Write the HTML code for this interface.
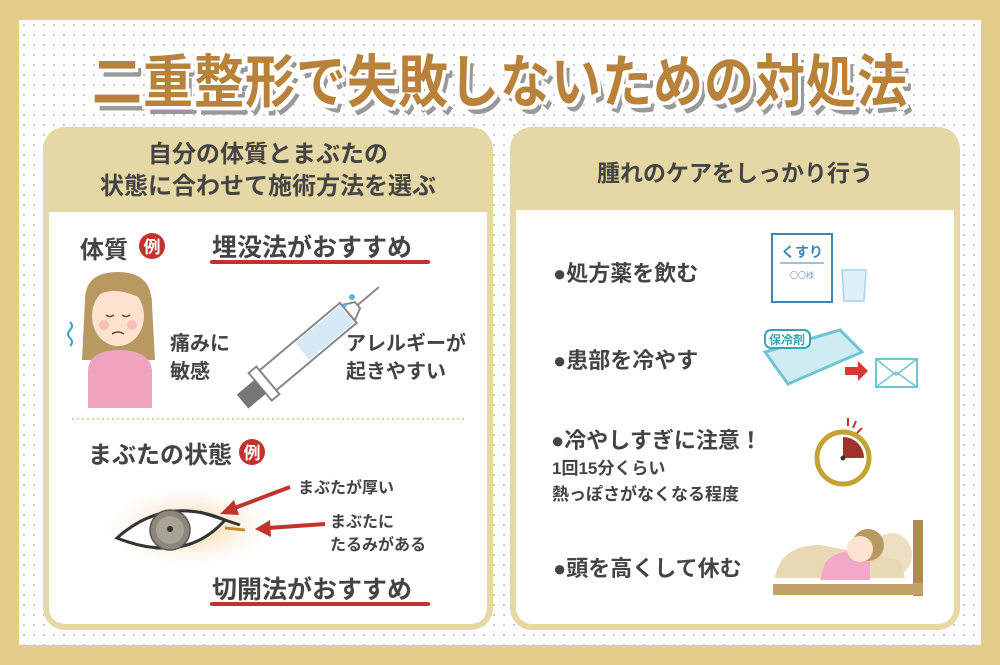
<!DOCTYPE html>
<html><head><meta charset="utf-8"><style>
*{margin:0;padding:0;box-sizing:border-box}
body{width:1000px;height:665px;overflow:hidden;background:#e2cd8a;font-family:"Liberation Sans","Noto Sans CJK JP",sans-serif;}
#in{position:absolute;left:19px;top:20px;width:962px;height:625px;background-color:#fdfdfd;background-image:radial-gradient(circle,#c9c9d3 1px,transparent 1.3px);background-size:10px 10px;}
.t{position:absolute;white-space:nowrap;font-weight:bold;color:#444;}
#title{left:0;width:1000px;top:42px;text-align:center;font-size:50px;color:#b8823a;letter-spacing:1px;transform:scaleY(1.15);
text-shadow:3px 3px 0 #fff,-3px -3px 0 #fff,3px -3px 0 #fff,-3px 3px 0 #fff,0 3px 0 #fff,0 -3px 0 #fff,3px 0 0 #fff,-3px 0 0 #fff,6px 6px 0 #999,5px 7px 0 #999;}
.panel{position:absolute;background:#e6d8a5;border-radius:22px;}
.inner{position:absolute;background:#fff;border-radius:0 0 16px 16px;}
</style></head><body>
<div id="in"></div>
<div class="t" id="title">二重整形で失敗しないための対処法</div>

<div class="panel" style="left:43px;top:127px;width:450px;height:503px"></div>
<div class="inner" style="left:49px;top:212px;width:438px;height:412px"></div>
<div class="panel" style="left:510px;top:127px;width:450px;height:503px"></div>
<div class="inner" style="left:516px;top:210px;width:438px;height:414px"></div>

<div class="t" style="left:43px;width:450px;text-align:center;top:139px;font-size:24px;line-height:32px">自分の体質とまぶたの<br>状態に合わせて施術方法を選ぶ</div>
<div class="t" style="left:510px;width:450px;text-align:center;top:154px;font-size:23px">腫れのケアをしっかり行う</div>

<div class="t" style="left:80px;top:230px;font-size:24px">体質</div>
<div class="t" style="left:212px;top:228px;font-size:25px">埋没法がおすすめ</div>
<div class="t" style="left:170px;top:330px;font-size:20px;line-height:28px">痛みに<br>敏感</div>
<div class="t" style="left:346px;top:330px;font-size:20px;line-height:28px">アレルギーが<br>起きやすい</div>
<div class="t" style="left:88px;top:435px;font-size:24px">まぶたの状態</div>
<div class="t" style="left:298px;top:474px;font-size:16px">まぶたが厚い</div>
<div class="t" style="left:330px;top:511px;font-size:16px;line-height:23px">まぶたに<br>たるみがある</div>
<div class="t" style="left:212px;top:570px;font-size:25px">切開法がおすすめ</div>

<div class="t" style="left:553px;top:256px;font-size:22px">●処方薬を飲む</div>
<div class="t" style="left:553px;top:343px;font-size:22px">●患部を冷やす</div>
<div class="t" style="left:551px;top:423px;font-size:22px">●冷やしすぎに注意！</div>
<div class="t" style="left:552px;top:456px;font-size:17px;line-height:26px">1回15分くらい<br>熱っぽさがなくなる程度</div>
<div class="t" style="left:553px;top:551px;font-size:22px">●頭を高くして休む</div>

<svg width="1000" height="665" style="position:absolute;left:0;top:0">
<defs><radialGradient id="sh"><stop offset="0" stop-color="#f1c98c"/><stop offset="1" stop-color="#fff" stop-opacity="0"/></radialGradient></defs>
<circle cx="152" cy="246" r="13" fill="#c0332e"/><text x="152" y="253" font-size="17" font-weight="bold" fill="#fff" text-anchor="middle" font-family="Noto Sans CJK JP">例</text>
<circle cx="252" cy="452" r="13" fill="#c0332e"/><text x="252" y="459" font-size="17" font-weight="bold" fill="#fff" text-anchor="middle" font-family="Noto Sans CJK JP">例</text>
<line x1="212" y1="262" x2="428" y2="262" stroke="#c0332e" stroke-width="4" stroke-linecap="round"/>
<line x1="212" y1="604" x2="428" y2="604" stroke="#c0332e" stroke-width="4" stroke-linecap="round"/>
<line x1="72" y1="419" x2="465" y2="419" stroke="#e3d3a0" stroke-width="2" stroke-dasharray="2 3"/>
<path d="M85 300 Q85 272 118 272 Q152 272 152 305 L155 360 L82 360 Z" fill="#b89962"/>
<ellipse cx="118" cy="316" rx="26" ry="30" fill="#fde3cf"/>
<path d="M92 300 Q110 282 145 300 L145 290 Q118 270 90 292Z" fill="#b89962"/>
<circle cx="104" cy="325" r="5" fill="#f6c0b8"/><circle cx="132" cy="325" r="5" fill="#f6c0b8"/>
<path d="M106 315 q4 3 8 0 M122 315 q4 3 8 0 M112 334 q6 -4 12 0" stroke="#6a4a3a" stroke-width="1.5" fill="none"/>
<path d="M88 408 L88 370 Q90 350 118 350 Q150 350 152 370 L152 408Z" fill="#f0a2c0"/>
<path d="M70 322 q4 4 0 8 q-4 4 0 8 q4 4 0 8" stroke="#39a7c8" stroke-width="2" fill="none"/>
<g transform="translate(310 345) rotate(-40)">
<rect x="-55" y="-13" width="105" height="26" fill="#fff" stroke="#888" stroke-width="2"/>
<rect x="-10" y="-11" width="58" height="22" fill="#d5e9f6"/>
<rect x="-65" y="-18" width="10" height="36" fill="#fff" stroke="#888" stroke-width="2"/>
<rect x="-88" y="-9" width="23" height="18" fill="#777"/>
<path d="M50 -10 L62 -4 L62 4 L50 10Z" fill="#fff" stroke="#888" stroke-width="2"/>
<line x1="62" y1="0" x2="90" y2="0" stroke="#888" stroke-width="2"/>
</g>
<circle cx="352" cy="297" r="3" fill="#5ab8dc"/><circle cx="345" cy="305" r="2" fill="#5ab8dc"/>
<ellipse cx="190" cy="527" rx="95" ry="45" fill="url(#sh)"/>
<path d="M117 538 Q165 495 225 520 Q185 565 117 538Z" fill="#fff" stroke="#333" stroke-width="3"/>
<path d="M200 512 Q225 520 240 525" stroke="#333" stroke-width="3" fill="none"/>
<path d="M225 528 L245 530" stroke="#c68b2b" stroke-width="3"/>
<circle cx="170" cy="530" r="20" fill="#8d877b" stroke="#555" stroke-width="1.5"/>
<circle cx="170" cy="530" r="14" fill="#a8a396"/>
<circle cx="170" cy="529" r="3" fill="#333"/>
<line x1="290" y1="487" x2="232" y2="509" stroke="#c0332e" stroke-width="4"/>
<path d="M220 514 L234 500 L239 515Z" fill="#c0332e"/>
<line x1="325" y1="524" x2="268" y2="528" stroke="#c0332e" stroke-width="4"/>
<path d="M255 529 L270 520 L271 537Z" fill="#c0332e"/>
<rect x="772" y="234" width="60" height="68" fill="#fff" stroke="#3d86b8" stroke-width="2"/>
<text x="802" y="257" font-size="14" font-weight="bold" fill="#3d86b8" text-anchor="middle" font-family="Noto Sans CJK JP">くすり</text>
<line x1="780" y1="263" x2="824" y2="263" stroke="#3d86b8"/>
<text x="802" y="278" font-size="8" fill="#7aa5c8" text-anchor="middle" font-family="Noto Sans CJK JP">〇〇様</text>
<path d="M842 270 L866 270 L864 301 L844 301Z" fill="#dff0fa" stroke="#a8d3ea" stroke-width="1.5"/>
<path d="M765 352 L840 330 L862 352 L788 384Z" fill="#cfecf3" stroke="#6ec5d4" stroke-width="3"/>
<rect x="765" y="330" width="45" height="18" rx="6" fill="#fff" stroke="#3aa3b6" stroke-width="2"/>
<text x="787" y="344" font-size="12" font-weight="bold" fill="#3aa3b6" text-anchor="middle" font-family="Noto Sans CJK JP">保冷剤</text>
<path d="M845 367 L858 367 L858 361 L868 371 L858 381 L858 375 L845 375Z" fill="#d23a33"/>
<rect x="876" y="359" width="41" height="28" fill="#fff" stroke="#6ec5d4" stroke-width="2"/>
<path d="M876 359 L896 375 L917 359 M876 387 L896 372 L917 387" stroke="#6ec5d4" stroke-width="1.5" fill="none"/>
<circle cx="843" cy="458" r="26" fill="#fff" stroke="#c4a234" stroke-width="5"/>
<path d="M843 458 L843 437 A21 21 0 0 1 864 458Z" fill="#9e332c"/>
<circle cx="843" cy="458" r="2.5" fill="#333"/>
<path d="M848 418 l0 8 M856 421 l-3 7 M862 428 l-5 5" stroke="#c0332e" stroke-width="2"/>
<rect x="913" y="520" width="10" height="76" fill="#b08a55"/>
<rect x="773" y="583" width="150" height="12" fill="#c2a06a"/>
<rect x="773" y="578" width="140" height="6" fill="#fff"/>
<ellipse cx="892" cy="555" rx="20" ry="22" fill="#ede0c2"/>
<path d="M775 578 Q780 545 820 545 L900 560 L905 578Z" fill="#e8d8b5"/>
<path d="M825 563 Q840 545 870 555 L870 580 L820 580Z" fill="#f3a9c8"/>
<circle cx="868" cy="545" r="16" fill="#b89962"/>
<circle cx="860" cy="549" r="13" fill="#fde3cf"/>
</svg>
</body></html>
